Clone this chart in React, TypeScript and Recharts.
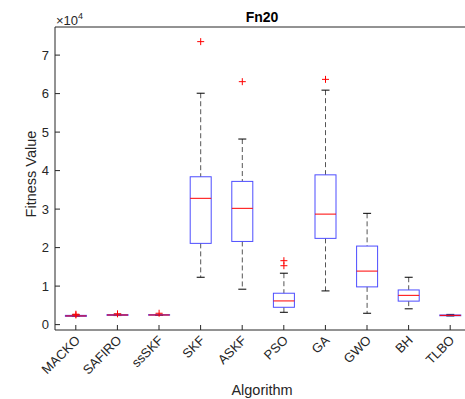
import React from 'react';
import { ComposedChart, Bar, XAxis, YAxis } from 'recharts';

const algorithms = ['MACKO', 'SAFIRO', 'ssSKF', 'SKF', 'ASKF', 'PSO', 'GA', 'GWO', 'BH', 'TLBO'];
const whiskerLow = [2100, 2350, 2400, 12300, 9200, 3200, 8750, 2950, 4100, 2250];
const quartile1 = [2150, 2400, 2450, 21100, 21600, 4500, 22400, 9800, 6100, 2300];
const medians = [2250, 2500, 2500, 32800, 30200, 6150, 28700, 13900, 7600, 2400];
const quartile3 = [2400, 2600, 2600, 38400, 37200, 8150, 38900, 20400, 9000, 2500];
const whiskerHigh = [2500, 2700, 2650, 60100, 48200, 13350, 60900, 28900, 12300, 2650];
const outliers = [[2500, 2700], [2800], [2950], [73500], [63100], [15300, 16600], [63700], [], [], []];
const yTicks = [0, 10000, 20000, 30000, 40000, 50000, 60000, 70000];

const data = algorithms.map((name, i) => ({
  name,
  lo: whiskerLow[i],
  q1: quartile1[i],
  med: medians[i],
  q3: quartile3[i],
  hi: whiskerHigh[i],
  out: outliers[i],
}));

const AXIS = '#262626';
const FONT = '"Liberation Sans", Arial, sans-serif';

const BoxShape = (props: any) => {
  const { x, y, width, height, payload } = props;
  const top = Math.min(y, y + height);
  const bottom = Math.max(y, y + height);
  const px = (v: number) => bottom - ((v - payload.lo) / (payload.hi - payload.lo)) * (bottom - top);
  const cx = x + width / 2;
  const hw = width / 2;
  const cap = 4;
  return (
    <g>
      <line x1={cx} x2={cx} y1={px(payload.hi)} y2={px(payload.q3)} stroke="#555" strokeDasharray="5 3" />
      <line x1={cx} x2={cx} y1={px(payload.q1)} y2={px(payload.lo)} stroke="#555" strokeDasharray="5 3" />
      <line x1={cx - cap} x2={cx + cap} y1={px(payload.hi)} y2={px(payload.hi)} stroke="#000" />
      <line x1={cx - cap} x2={cx + cap} y1={px(payload.lo)} y2={px(payload.lo)} stroke="#000" />
      <rect x={cx - hw} y={px(payload.q3)} width={width} height={px(payload.q1) - px(payload.q3)} fill="none" stroke="#4d4dff" />
      <line x1={cx - hw} x2={cx + hw} y1={px(payload.med)} y2={px(payload.med)} stroke="#ff0000" />
      {payload.out.map((v: number, k: number) => (
        <g key={k} stroke="#ff0000">
          <line x1={cx - 3.5} x2={cx + 3.5} y1={px(v)} y2={px(v)} />
          <line x1={cx} x2={cx} y1={px(v) - 3.5} y2={px(v) + 3.5} />
        </g>
      ))}
    </g>
  );
};

const XTick = (props: any) => {
  const { x, y, payload } = props;
  return (
    <text
      x={x + 5}
      y={y}
      textAnchor="end"
      fontSize={13}
      fontFamily={FONT}
      fill={AXIS}
      transform={`rotate(-45, ${x + 5}, ${y})`}
    >
      {payload.value}
    </text>
  );
};

export default function App() {
  return (
    <div style={{ position: 'fixed', left: 0, top: 0, width: 465, height: 399, overflow: 'hidden', background: '#fff' }}>
      <ComposedChart
        width={476}
        height={399}
        data={data}
        margin={{ top: 26, right: 5, left: 15, bottom: 0 }}
        barCategoryGap="25%"
      >
        <XAxis
          dataKey="name"
          height={69}
          tick={<XTick />}
          tickSize={-5}
          tickMargin={16}
          interval={0}
          stroke={AXIS}
        />
        <XAxis
          xAxisId="top"
          orientation="top"
          dataKey="name"
          height={1}
          tick={false}
          tickSize={-5}
          interval={0}
          stroke={AXIS}
        />
        <YAxis
          width={40}
          domain={[-1400, 77300]}
          allowDataOverflow
          ticks={yTicks}
          tickFormatter={(v: number) => String(v / 10000)}
          tickSize={-5}
          tickMargin={11}
          stroke={AXIS}
          tick={{ fill: AXIS, fontSize: 13, fontFamily: FONT }}
        />
        <Bar dataKey={(d: any) => [d.lo, d.hi]} shape={(p: any) => <BoxShape {...p} />} isAnimationActive={false} />
      </ComposedChart>
      <svg width={465} height={399} style={{ position: 'absolute', left: 0, top: 0, pointerEvents: 'none' }}>
        <text x={262} y={22} textAnchor="middle" fontSize={14} fontWeight="bold" fontFamily={FONT} fill="#000">
          Fn20
        </text>
        <text x={56} y={25} fontSize={13} fontFamily={FONT} fill={AXIS}>
          ×10
          <tspan dy={-6} fontSize={9}>4</tspan>
        </text>
        <text x={262} y={395} textAnchor="middle" fontSize={14.5} fontFamily={FONT} fill={AXIS}>
          Algorithm
        </text>
        <text x={36} y={174} textAnchor="middle" fontSize={14.5} fontFamily={FONT} fill={AXIS} transform="rotate(-90, 36, 174)">
          Fitness Value
        </text>
      </svg>
    </div>
  );
}
